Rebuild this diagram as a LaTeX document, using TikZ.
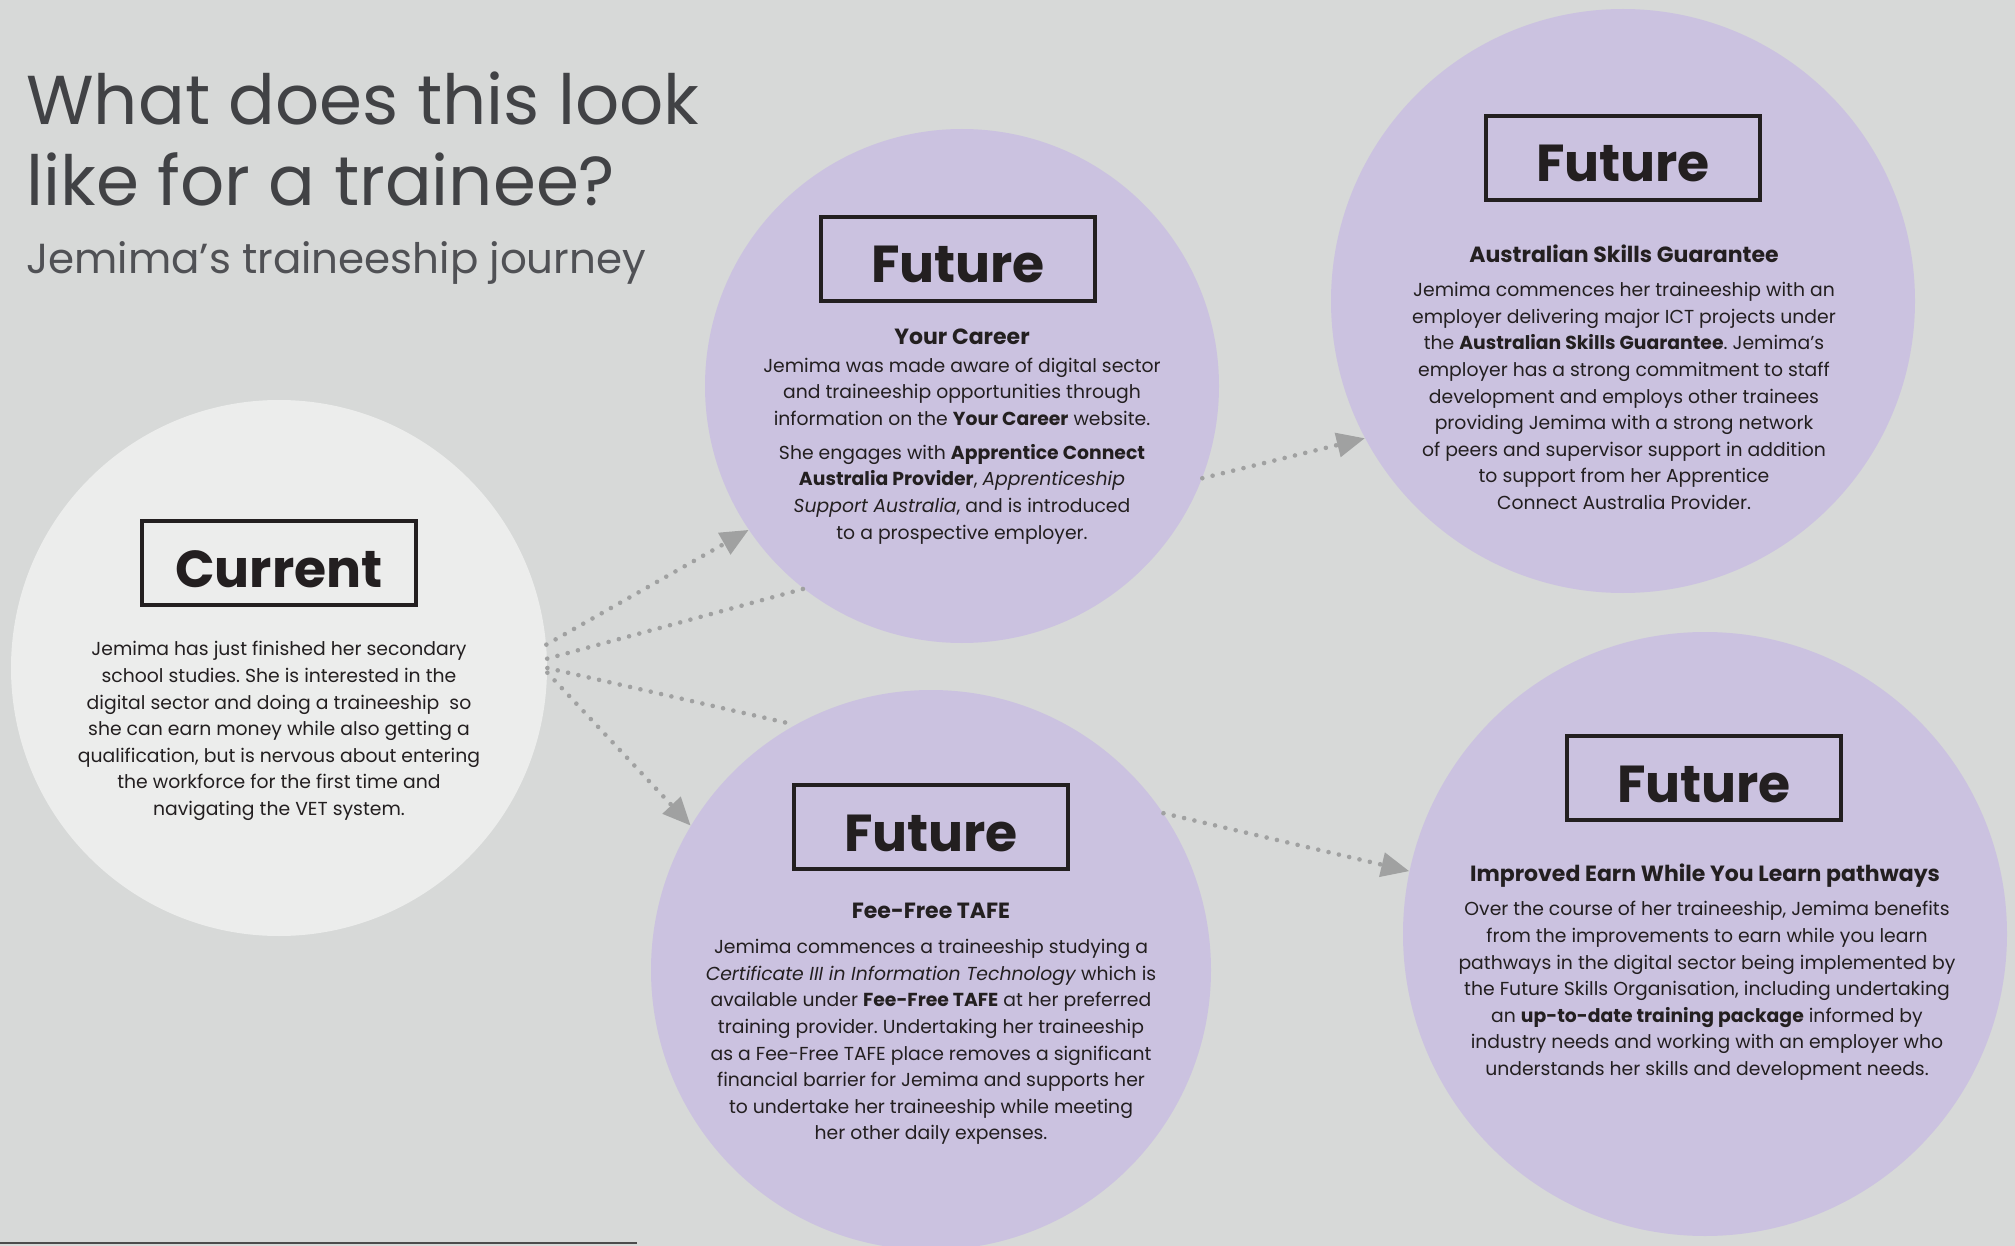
\documentclass[tikz,border=0pt]{standalone}
\usepackage{fontspec}
\setmainfont{Poppins}
\usepackage{xcolor}
\usepackage{tikz}
\usetikzlibrary{arrows.meta,positioning}

\definecolor{pagebg}{HTML}{D7D9D8}
\definecolor{nowfill}{HTML}{ECEDEC}
\definecolor{lilac}{HTML}{CBC2E0}
\definecolor{inkdark}{HTML}{231F20}
\definecolor{titlegrey}{HTML}{414245}
\definecolor{subgrey}{HTML}{505155}
\definecolor{dotgrey}{HTML}{A0A1A1}

\newcommand{\bodysize}{\fontsize{9.4}{13.3}\selectfont}
\frenchspacing

\begin{document}
\begin{tikzpicture}[x=0.5pt, y=-0.5pt,
    bubble/.style={circle, draw=none, inner sep=0pt},
    tagbox/.style={draw=inkdark, line width=2pt, minimum width=137pt, minimum height=42pt,
      inner sep=0pt, text height=24pt, text depth=0pt, text=inkdark, font=\fontsize{26}{30}\selectfont\bfseries},
    blurb/.style={align=center, inner sep=0pt, text=inkdark, font=\bodysize},
    headline/.style={anchor=base, inner sep=0pt, text=inkdark, font=\fontsize{11}{13}\selectfont\bfseries},
    trail/.style={dotgrey, line width=2.3pt, line cap=round, dash pattern=on 0pt off 5.3pt},
    pointed/.style={-{Triangle[length=14pt, width=12pt]}}]

    % Page
    \useasboundingbox (0,0) rectangle (2015,1246);
    \fill[pagebg] (0,0) rectangle (2015,1246);
    \draw[line width=1pt, black!70] (0,1243) -- (637,1243);

    % Title
    \node[anchor=base west, inner sep=0pt, text=titlegrey, font=\fontsize{34.6}{40}\selectfont] (title1) at (26,125) {What does this look};
    \node[anchor=base west, inner sep=0pt, text=titlegrey, font=\fontsize{34.6}{40}\selectfont] (title2) at (26,206) {like for a trainee?};
    \node[anchor=base west, inner sep=0pt, text=subgrey, font=\fontsize{21}{25}\selectfont] (subtitle) at (26,274) {Jemima’s traineeship journey};

    % Circles
    \node[bubble, fill=nowfill, minimum size=268pt] (cur) at (279,668) {};
    \node[bubble, fill=lilac, minimum size=257pt] (career) at (962,386) {};
    \node[bubble, fill=lilac, minimum size=292pt] (asg) at (1623,301) {};
    \node[bubble, fill=lilac, minimum size=280pt] (tafe) at (931,970) {};
    \node[bubble, fill=lilac, minimum size=302pt] (earn) at (1705,934) {};

    % Current
    \node[tagbox] (cur-tag) at (279,563) {Current};
    \node[blurb] (cur-text) at (279,731) {Jemima has just finished her secondary\\
      school studies. She is interested in the\\
      digital sector and doing a traineeship\ \ so\\
      she can earn money while also getting a\\
      qualification, but is nervous about entering\\
      the workforce for the first time and\\
      navigating the VET system.};

    % Future: Your Career
    \node[tagbox] (career-tag) at (958,259) {Future};
    \node[headline] (career-head) at (962,345) {Your Career};
    \node[blurb] (career-text) at (962,451) {Jemima was made aware of digital sector\\
      and traineeship opportunities through\\
      information on the \textbf{Your Career} website.\\[3.6pt]
      She engages with \textbf{Apprentice Connect}\\
      \textbf{Australia Provider}, \textit{Apprenticeship}\\
      \textit{Support Australia}, and is introduced\\
      to a prospective employer.};

    % Future: Australian Skills Guarantee
    \node[tagbox] (asg-tag) at (1623,158) {Future};
    \node[headline] (asg-head) at (1624,263) {Australian Skills Guarantee};
    \node[blurb] (asg-text) at (1624,396) {Jemima commences her traineeship with an\\
      employer delivering major ICT projects under\\
      the \textbf{Australian Skills Guarantee}. Jemima’s\\
      employer has a strong commitment to staff\\
      development and employs other trainees\\
      providing Jemima with a strong network\\
      of peers and supervisor support in addition\\
      to support from her Apprentice\\
      Connect Australia Provider.};

    % Future: Fee-Free TAFE
    \node[tagbox] (tafe-tag) at (931,827) {Future};
    \node[headline] (tafe-head) at (931,918) {Fee-Free TAFE};
    \node[blurb] (tafe-text) at (931,1042) {Jemima commences a traineeship studying a\\
      \textit{Certificate III in Information Technology} which is\\
      available under \textbf{Fee-Free TAFE} at her preferred\\
      training provider. Undertaking her traineeship\\
      as a Fee-Free TAFE place removes a significant\\
      financial barrier for Jemima and supports her\\
      to undertake her traineeship while meeting\\
      her other daily expenses.};

    % Future: Earn While You Learn
    \node[tagbox] (earn-tag) at (1704,778) {Future};
    \node[headline] (earn-head) at (1705,881) {Improved Earn While You Learn pathways};
    \node[blurb] (earn-text) at (1707,991) {Over the course of her traineeship, Jemima benefits\\
      from the improvements to earn while you learn\\
      pathways in the digital sector being implemented by\\
      the Future Skills Organisation, including undertaking\\
      an \textbf{up-to-date training package} informed by\\
      industry needs and working with an employer who\\
      understands her skills and development needs.};

    % Dotted trails
    \draw[trail, pointed] (cur.5) -- (career.214);
    \draw[trail] (cur.2) -- (career.232);
    \draw[trail] (cur.0) -- (tafe.119);
    \draw[trail, pointed] (cur.359) -- (tafe.149);
    \draw[trail, pointed] (career.-21) -- (asg.208);
    \draw[trail, pointed] (tafe.34) -- (earn.168);
\end{tikzpicture}
\end{document}
